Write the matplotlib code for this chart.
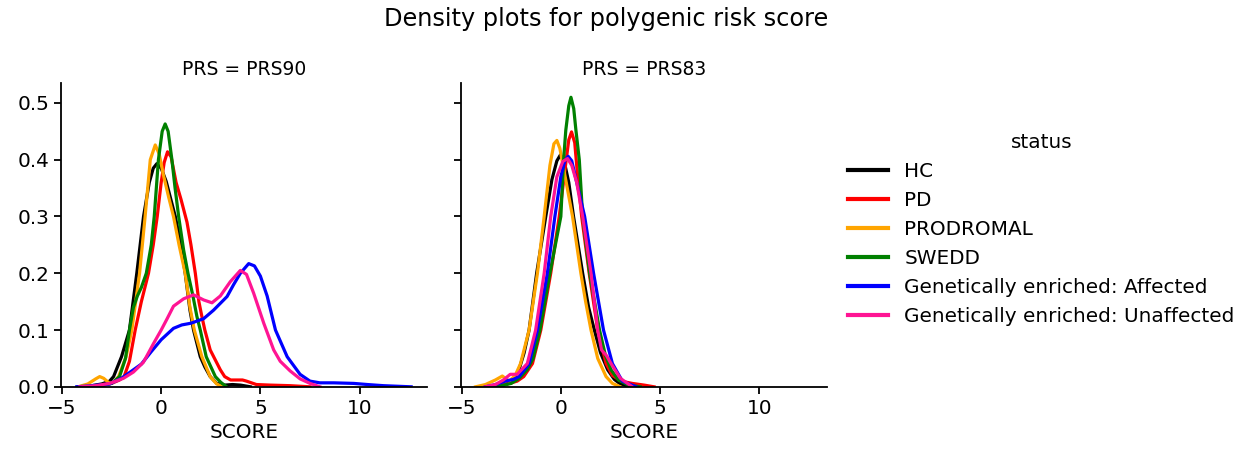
import matplotlib
matplotlib.use("Agg")
import matplotlib.pyplot as plt

plt.rcParams["font.family"] = ["DejaVu Sans"]
plt.rcParams["font.size"] = 14.4

# status groups and colours
statuses = ["HC", "PD", "PRODROMAL", "SWEDD",
            "Genetically enriched: Affected", "Genetically enriched: Unaffected"]
colors = ["black", "red", "orange", "green", "blue", "deeppink"]
panels = ["PRS90", "PRS83"]

# density curves: PRS90
prs90_hc_x = [-4.2, -3.5, -3.0, -2.6, -2.4, -2.0, -1.6, -1.23, -0.89, -0.6, -0.4, -0.22, 0.0, 0.25,
              0.45, 0.71, 1.0, 1.21, 1.45, 1.63, 1.97, 2.2, 2.47, 2.8, 3.2, 3.6, 4.0, 4.5]
prs90_hc_y = [0.0, 0.002, 0.005, 0.01, 0.018, 0.053, 0.1, 0.2, 0.3, 0.36, 0.385, 0.393, 0.385, 0.362,
              0.335, 0.30, 0.25, 0.2, 0.135, 0.1, 0.053, 0.035, 0.018, 0.006, 0.003, 0.004, 0.003, 0.0]
prs90_pd_x = [-3.6, -3.0, -2.5, -2.1, -1.87, -1.6, -1.31, -1.0, -0.64, -0.4, -0.2, 0.0, 0.15, 0.32, 0.5,
              0.75, 1.0, 1.3, 1.5, 1.72, 1.9, 2.05, 2.2, 2.47, 2.98, 3.2, 3.5, 4.1, 4.3, 4.8, 5.5, 6.5, 7.5]
prs90_pd_y = [0.0, 0.002, 0.006, 0.012, 0.018, 0.045, 0.1, 0.15, 0.2, 0.25, 0.3, 0.36, 0.395, 0.414, 0.405,
              0.36, 0.33, 0.29, 0.25, 0.2, 0.15, 0.124, 0.1, 0.065, 0.03, 0.018, 0.012, 0.012, 0.01,
              0.004, 0.003, 0.002, 0.0]
prs90_pro_x = [-4.2, -3.7, -3.3, -3.1, -2.9, -2.6, -2.4, -2.15, -1.77, -1.48, -1.09, -0.81, -0.55, -0.3,
               -0.1, 0.1, 0.37, 0.62, 0.9, 1.21, 1.45, 1.67, 2.05, 2.47, 2.8, 3.1]
prs90_pro_y = [0.0, 0.005, 0.014, 0.018, 0.015, 0.006, 0.008, 0.018, 0.053, 0.1, 0.2, 0.3, 0.4, 0.426,
               0.41, 0.375, 0.335, 0.3, 0.25, 0.2, 0.14, 0.1, 0.053, 0.018, 0.005, 0.0]
prs90_sw_x = [-3.8, -3.0, -2.5, -2.1, -1.8, -1.6, -1.4, -1.2, -1.0, -0.75, -0.5, -0.35, -0.14, 0.05, 0.2,
              0.35, 0.54, 0.7, 0.88, 1.13, 1.35, 1.6, 1.8, 1.97, 2.27, 2.73, 3.0, 3.3]
prs90_sw_y = [0.0, 0.002, 0.006, 0.018, 0.05, 0.1, 0.14, 0.16, 0.175, 0.2, 0.25, 0.3, 0.4, 0.45, 0.463,
              0.45, 0.4, 0.35, 0.3, 0.241, 0.2, 0.16, 0.124, 0.1, 0.053, 0.018, 0.008, 0.0]
prs90_gea_x = [-4.26, -3.5, -2.6, -2.0, -1.4, -1.0, -0.5, 0.0, 0.62, 1.04, 1.5, 2.14, 2.64, 3.32, 3.65,
               3.99, 4.41, 4.7, 5.0, 5.34, 5.76, 6.35, 7.0, 7.5, 8.0, 8.7, 9.7, 10.4, 11.2, 12.6]
prs90_gea_y = [0.0, 0.002, 0.005, 0.015, 0.03, 0.04, 0.062, 0.083, 0.103, 0.109, 0.112, 0.12, 0.135,
               0.159, 0.18, 0.2, 0.217, 0.213, 0.195, 0.16, 0.1, 0.053, 0.022, 0.01, 0.007, 0.007,
               0.006, 0.004, 0.002, 0.0]
prs90_geu_x = [-4.1, -3.3, -2.6, -1.9, -1.4, -0.9, -0.39, 0.0, 0.3, 0.62, 1.13, 1.63, 2.14, 2.56, 2.98,
               3.48, 3.99, 4.3, 4.66, 5.17, 5.67, 6.0, 6.5, 7.0, 7.5, 8.0]
prs90_geu_y = [0.0, 0.002, 0.006, 0.015, 0.026, 0.043, 0.076, 0.1, 0.12, 0.142, 0.155, 0.162, 0.153,
               0.148, 0.16, 0.185, 0.205, 0.198, 0.165, 0.112, 0.065, 0.045, 0.028, 0.014, 0.006, 0.0]

# PRS83
prs83_hc_x = [-3.6, -3.0, -2.7, -2.4, -2.11, -1.85, -1.6, -1.22, -0.76, -0.45, -0.2, -0.03, 0.15, 0.4,
              0.64, 1.1, 1.4, 1.69, 2.0, 2.36, 2.7, 3.0, 3.5]
prs83_hc_y = [0.0, 0.002, 0.005, 0.013, 0.03, 0.06, 0.1, 0.2, 0.3, 0.365, 0.398, 0.408, 0.4, 0.36,
              0.3, 0.2, 0.14, 0.1, 0.06, 0.03, 0.013, 0.005, 0.0]
prs83_pd_x = [-3.8, -3.2, -2.6, -2.2, -1.87, -1.43, -1.01, -0.51, -0.08, 0.2, 0.4, 0.54, 0.7, 0.85, 1.05,
              1.43, 1.86, 2.28, 2.6, 3.04, 3.6, 4.2, 4.7]
prs83_pd_y = [0.0, 0.002, 0.006, 0.01, 0.018, 0.041, 0.1, 0.2, 0.3, 0.38, 0.435, 0.449, 0.43, 0.37, 0.3,
              0.2, 0.1, 0.041, 0.02, 0.01, 0.006, 0.003, 0.0]
prs83_pro_x = [-4.3, -3.8, -3.3, -2.95, -2.6, -2.3, -2.03, -1.6, -1.18, -0.84, -0.55, -0.35, -0.2, -0.05,
               0.25, 0.59, 1.01, 1.25, 1.52, 1.86, 2.28, 2.6, 3.0]
prs83_pro_y = [0.0, 0.004, 0.012, 0.019, 0.01, 0.02, 0.041, 0.1, 0.2, 0.3, 0.39, 0.428, 0.434, 0.42,
               0.364, 0.3, 0.2, 0.15, 0.1, 0.05, 0.018, 0.006, 0.0]
prs83_sw_x = [-3.5, -3.0, -2.5, -2.1, -1.7, -1.4, -1.05, -0.55, 0.0, 0.14, 0.25, 0.4, 0.51, 0.65, 0.76,
              0.93, 1.1, 1.45, 1.95, 2.25, 2.53, 2.9, 3.4, 4.0]
prs83_sw_y = [0.0, 0.002, 0.006, 0.015, 0.03, 0.05, 0.1, 0.2, 0.3, 0.4, 0.452, 0.495, 0.51, 0.49, 0.452,
              0.4, 0.3, 0.2, 0.1, 0.055, 0.03, 0.012, 0.003, 0.0]
prs83_gea_x = [-3.8, -3.3, -2.8, -2.4, -2.11, -1.6, -1.18, -0.68, -0.3, 0.0, 0.2, 0.37, 0.55, 0.8, 1.2,
               1.65, 2.15, 2.6, 3.1, 3.8]
prs83_gea_y = [0.0, 0.004, 0.01, 0.013, 0.018, 0.041, 0.1, 0.2, 0.3, 0.37, 0.398, 0.406, 0.398, 0.36,
               0.3, 0.2, 0.1, 0.041, 0.01, 0.0]
prs83_geu_x = [-3.8, -3.3, -2.9, -2.55, -2.2, -1.69, -1.27, -0.84, -0.51, -0.2, 0.1, 0.34, 0.55, 0.8, 1.1,
               1.52, 1.86, 2.05, 2.3, 2.53, 3.0, 3.6]
prs83_geu_y = [0.0, 0.004, 0.012, 0.022, 0.022, 0.041, 0.1, 0.2, 0.3, 0.37, 0.397, 0.402, 0.39, 0.36,
               0.3, 0.2, 0.1, 0.065, 0.055, 0.041, 0.015, 0.0]

curves = {
    "PRS90": [(prs90_hc_x, prs90_hc_y), (prs90_pd_x, prs90_pd_y), (prs90_pro_x, prs90_pro_y),
              (prs90_sw_x, prs90_sw_y), (prs90_gea_x, prs90_gea_y), (prs90_geu_x, prs90_geu_y)],
    "PRS83": [(prs83_hc_x, prs83_hc_y), (prs83_pd_x, prs83_pd_y), (prs83_pro_x, prs83_pro_y),
              (prs83_sw_x, prs83_sw_y), (prs83_gea_x, prs83_gea_y), (prs83_geu_x, prs83_geu_y)],
}

fig = plt.figure(figsize=(12.45, 4.54), dpi=100)
ax1 = fig.add_axes([0.049, 0.148, 0.294, 0.669])
ax2 = fig.add_axes([0.370, 0.148, 0.294, 0.669], sharex=ax1, sharey=ax1)

handles = []
for ax, prs in zip([ax1, ax2], panels):
    for (xs, ys), status, c in zip(curves[prs], statuses, colors):
        line, = ax.plot(xs, ys, color=c, lw=2.3, label=status)
        if ax is ax1:
            handles.append(line)
    ax.set_title(f"PRS = {prs}", fontsize=13.5)
    ax.set_xlabel("SCORE")
    for s in ["top", "right"]:
        ax.spines[s].set_visible(False)
    ax.spines["left"].set_linewidth(1.3)
    ax.spines["bottom"].set_linewidth(1.3)
    ax.tick_params(width=1.3, length=5)

ax1.set_xlim(-5.05, 13.4)
ax1.set_ylim(0, 0.535)
ax1.set_xticks([-5, 0, 5, 10])
ax1.set_yticks([0.0, 0.1, 0.2, 0.3, 0.4, 0.5])
ax2.tick_params(labelleft=False)

leg = fig.legend(handles, statuses, title="status", loc="center left",
                 bbox_to_anchor=(0.667, 0.495), frameon=False, fontsize=14.4,
                 title_fontsize=14.4)
for h in leg.legend_handles:
    h.set_linewidth(3)
fig.suptitle("Density plots for polygenic risk score", x=0.487, y=0.985, fontsize=17.3)

fig.savefig("out.png", dpi=100)
